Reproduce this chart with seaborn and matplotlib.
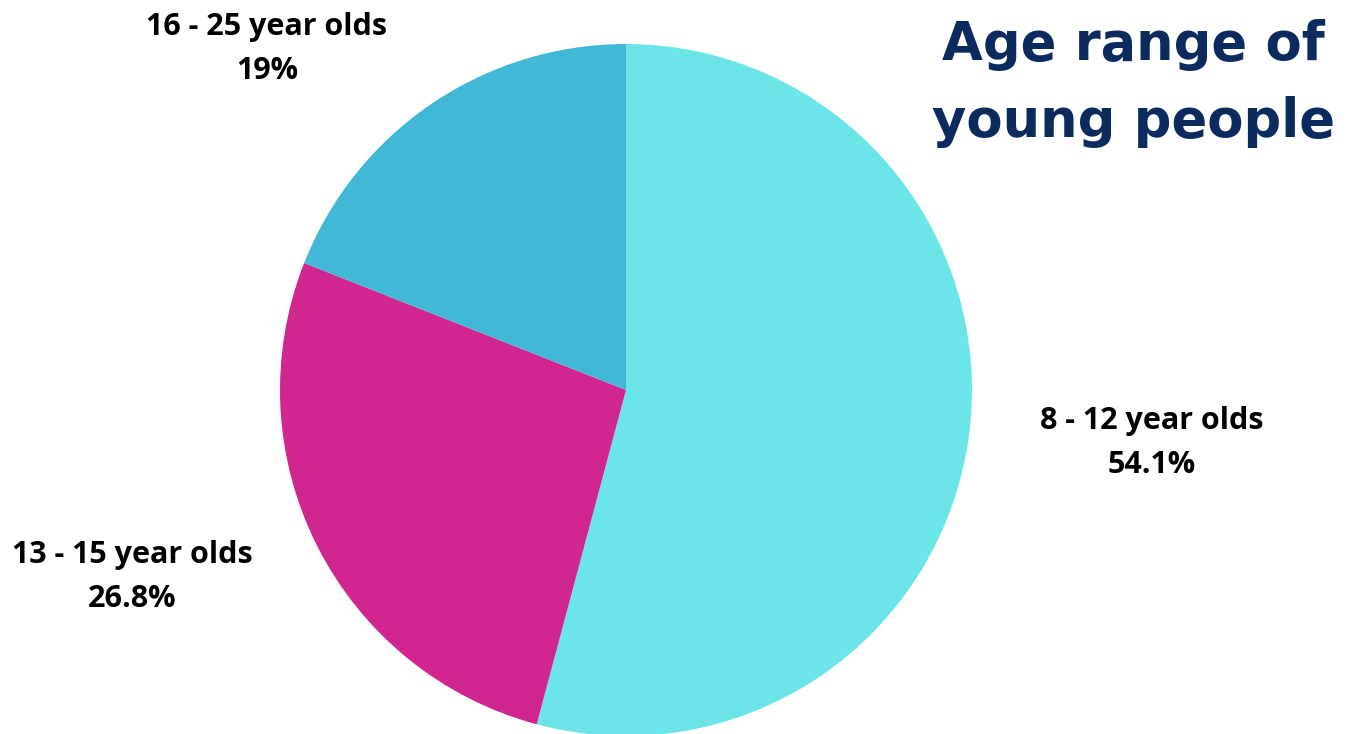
import matplotlib
matplotlib.use("Agg")
import matplotlib.pyplot as plt
import seaborn as sns
import pandas as pd

# Share of young people by age group
groups = ["8 - 12 year olds", "13 - 15 year olds", "16 - 25 year olds"]
shares = [54.1, 26.8, 19.0]
share_labels = ["54.1%", "26.8%", "19%"]
slice_colors = ["#6CE5E8", "#D1268F", "#41B8D5"]

sns.set_theme(style="white")
plt.rcParams["font.family"] = ["Open Sans", "DejaVu Sans"]

df = pd.DataFrame({"group": groups, "share": shares, "label": share_labels})

W, H = 1350, 734
fig = plt.figure(figsize=(W / 100, H / 100), dpi=100)
fig.patch.set_facecolor("white")

cx, cy, r = 626, 390, 346
ax = fig.add_axes([(cx - r) / W, (H - cy - r) / H, 2 * r / W, 2 * r / H])
ax.pie(df["share"], colors=sns.color_palette(slice_colors), startangle=90,
       counterclock=False, radius=1.0, wedgeprops=dict(linewidth=0))
ax.set_xlim(-1, 1)
ax.set_ylim(-1, 1)
ax.set_aspect("equal")
ax.axis("off")

# Category labels placed beside their slices
label_pos = [(1152, 421), (132, 555), (267, 27)]
for (x, y), name, pct in zip(label_pos, df["group"], df["label"]):
    fig.text(x / W, 1 - y / H, name, ha="center", va="center",
             fontsize=22, fontweight="bold", color="black")
    fig.text(x / W, 1 - (y + 44) / H, pct, ha="center", va="center",
             fontsize=22, fontweight="bold", color="black")

# Title in the upper right
title_font = dict(fontsize=38, fontweight="bold", color="#0B2B5E",
                  family=["DejaVu Sans"])
fig.text(1133 / W, 1 - 45 / H, "Age range of", ha="center", va="center",
         **title_font)
fig.text(1133 / W, 1 - 122 / H, "young people", ha="center", va="center",
         **title_font)

fig.savefig("out.png", dpi=100, facecolor="white")
